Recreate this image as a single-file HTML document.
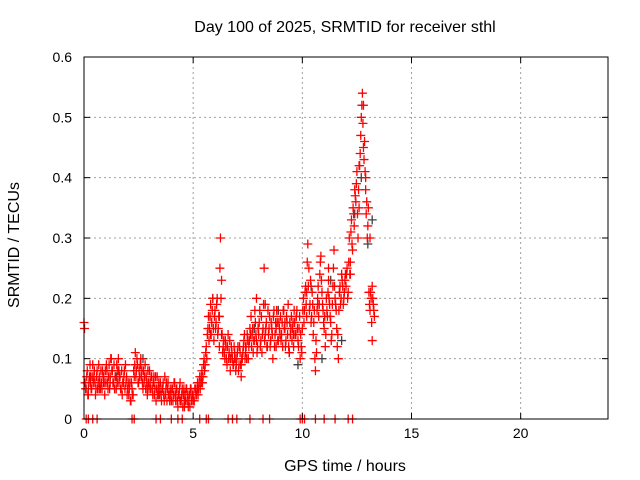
<!DOCTYPE html>
<html><head><meta charset="utf-8"><style>
body{margin:0;background:#fff}
svg{display:block;font-family:"Liberation Sans",sans-serif}
</style></head><body>
<svg id="chart" width="640" height="480" viewBox="0 0 640 480">
<rect width="640" height="480" fill="#fff"/>
<g id="grid"></g>
<g id="black"></g>
<g id="red"></g>
<g id="axes"></g>
<text x="345" y="32" text-anchor="middle" font-size="16">Day 100 of 2025, SRMTID for receiver sthl</text>
<text x="345" y="471" text-anchor="middle" font-size="16">GPS time / hours</text>
<text transform="translate(19,245) rotate(-90)" text-anchor="middle" font-size="16">SRMTID / TECUs</text>
</svg>
<script>
const xTicks=[0,5,10,15,20];
const yTicks=[0,0.1,0.2,0.3,0.4,0.5,0.6];
const yTickLabels=["0","0.1","0.2","0.3","0.4","0.5","0.6"];
const redValues=[
0.16,0.06,0.05,0.08,0.04,0.07,0.06,0.05,0.09,0.07,0.06,0.05,0.08,0.06,0.07,0.05,0.06,0.08,0.07,0.04,
0.06,0.08,0.05,0.09,0.07,0.10,0.08,0.06,0.05,0.07,0.09,0.08,0.06,0.07,0.05,0.04,0.06,0.08,0.09,0.07,
0.05,0.04,0.06,0.03,0.05,0.04,0.07,0.11,0.08,0.09,0.06,0.07,0.10,0.08,0.05,0.06,0.09,0.07,0.04,0.06,
0.08,0.05,0.07,0.04,0.06,0.05,0.03,0.07,0.05,0.04,0.06,0.03,0.05,0.04,0.07,0.05,0.03,0.06,0.04,0.05,
0.03,0.05,0.04,0.06,0.03,0.05,0.02,0.04,0.06,0.03,0.05,0.04,0.02,0.03,0.05,0.04,0.03,0.02,0.04,0.03,
0.04,0.03,0.05,0.04,0.06,0.05,0.07,0.06,0.08,0.07,0.10,0.09,0.12,0.14,0.17,0.15,0.19,0.16,0.20,0.13,
0.18,0.16,0.20,0.15,0.12,0.30,0.23,0.11,0.13,0.10,0.12,0.09,0.14,0.11,0.08,0.12,0.10,0.09,0.11,0.08,
0.10,0.12,0.09,0.11,0.07,0.10,0.12,0.14,0.11,0.10,0.13,0.12,0.15,0.17,0.14,0.11,0.13,0.16,0.20,0.12,
0.14,0.18,0.13,0.11,0.15,0.25,0.19,0.16,0.12,0.14,0.17,0.13,0.15,0.10,0.18,0.14,0.12,0.16,0.13,0.15,
0.17,0.14,0.12,0.18,0.15,0.13,0.16,0.19,0.11,0.14,0.17,0.15,0.12,0.16,0.14,0.18,0.13,0.15,0.10,0.12,
0.15,0.20,0.18,0.22,0.17,0.29,0.25,0.19,0.16,0.21,0.14,0.18,0.08,0.11,0.20,0.17,0.24,0.27,0.21,0.18,
0.15,0.12,0.20,0.17,0.23,0.19,0.16,0.14,0.22,0.28,0.20,0.18,0.12,0.10,0.21,0.19,0.24,0.22,0.20,0.23,
0.22,0.25,0.21,0.30,0.26,0.33,0.28,0.34,0.38,0.36,0.41,0.30,0.35,0.44,0.50,0.54,0.52,0.46,0.40,0.36,
0.32,0.21,0.18,0.20,0.22,0.19,0.17];
const redValuesB=[
0.15,0.05,0.07,0.04,0.06,0.09,0.05,0.07,0.06,0.08,0.04,0.07,0.05,0.09,0.06,0.08,0.05,0.07,0.06,0.08,
0.09,0.06,0.07,0.05,0.10,0.08,0.06,0.09,0.07,0.05,0.06,0.10,0.07,0.05,0.08,0.06,0.07,0.05,0.06,0.04,
0.06,0.05,0.03,0.06,0.04,0.08,0.09,0.07,0.10,0.06,0.08,0.09,0.07,0.06,0.08,0.07,0.05,0.06,0.08,0.05,
0.06,0.07,0.05,0.06,0.04,0.07,0.05,0.04,0.06,0.05,0.04,0.05,0.06,0.03,0.04,0.06,0.05,0.04,0.03,0.04,
0.05,0.03,0.06,0.04,0.05,0.03,0.04,0.05,0.03,0.04,0.02,0.05,0.04,0.05,0.03,0.02,0.04,0.05,0.03,0.04,
0.03,0.05,0.04,0.05,0.04,0.06,0.05,0.07,0.06,0.09,0.08,0.11,0.10,0.15,0.13,0.17,0.14,0.18,0.15,0.17,
0.15,0.19,0.14,0.17,0.25,0.20,0.14,0.12,0.11,0.13,0.10,0.12,0.10,0.13,0.10,0.11,0.09,0.12,0.10,0.09,
0.11,0.08,0.12,0.09,0.10,0.11,0.13,0.10,0.12,0.14,0.10,0.13,0.14,0.12,0.15,0.13,0.18,0.14,0.11,0.15,
0.16,0.12,0.17,0.14,0.19,0.13,0.15,0.12,0.18,0.15,0.12,0.16,0.14,0.17,0.12,0.16,0.18,0.13,0.16,0.14,
0.13,0.16,0.18,0.15,0.12,0.17,0.14,0.12,0.16,0.15,0.13,0.16,0.18,0.14,0.17,0.15,0.12,0.17,0.14,0.11,
0.18,0.16,0.21,0.19,0.26,0.22,0.18,0.23,0.17,0.19,0.16,0.10,0.13,0.18,0.22,0.19,0.26,0.23,0.19,0.16,
0.17,0.14,0.18,0.21,0.20,0.17,0.13,0.19,0.25,0.22,0.19,0.15,0.14,0.18,0.22,0.20,0.23,0.19,0.21,0.24,
0.24,0.20,0.26,0.24,0.31,0.29,0.35,0.32,0.37,0.39,0.34,0.38,0.42,0.47,0.52,0.49,0.43,0.41,0.34,0.30,
0.35,0.19,0.21,0.16,0.20,0.18];
const redStartHour=0, redStepHour=0.05, redBStartHour=0.025;
const redExtraTimes=[0.3,0.7,1.2,1.6,2.6,2.9,3.2,4.2,4.6,4.9,5.4,5.8,6.2,6.5,6.9,7.4,7.9,8.3,8.8,9.2,9.6,10.2,10.7,11.2,11.7,12.2,12.6,12.8,12.9,13.1,13.2];
const redExtraValues=[0.07,0.05,0.06,0.08,0.09,0.05,0.07,0.04,0.03,0.05,0.06,0.14,0.17,0.12,0.10,0.12,0.13,0.14,0.15,0.16,0.14,0.21,0.19,0.25,0.21,0.24,0.42,0.45,0.38,0.30,0.13];
const zeroTimes=[0.1,0.2,0.4,0.6,2.2,2.3,3.3,3.5,4.0,4.3,4.5,5.3,5.6,5.7,6.6,6.8,7.0,7.6,8.2,8.5,9.9,10.0,10.1,10.6,11.0,11.5,12.1,12.3];
const blackTimes=[0.2,0.9,1.5,2.7,3.4,4.4,5.2,5.9,6.3,6.7,7.2,7.8,8.4,8.9,9.4,9.8,10.4,10.9,11.3,11.8,12.4,12.7,13.0,13.2];
const blackValues=[0.05,0.06,0.07,0.10,0.04,0.03,0.05,0.20,0.14,0.10,0.09,0.15,0.12,0.18,0.11,0.09,0.22,0.10,0.23,0.13,0.34,0.40,0.29,0.33];

const X0=84,X1=608,Y0=419,Y1=57;
const xs=h=>X0+h/24*(X1-X0);
const ys=v=>Y0-v/0.6*(Y0-Y1);
const NS="http://www.w3.org/2000/svg";
function mk(tag,attrs,parent){const e=document.createElementNS(NS,tag);for(const k in attrs)e.setAttribute(k,attrs[k]);parent.appendChild(e);return e;}
const grid=document.getElementById('grid'),axes=document.getElementById('axes');
xTicks.forEach(t=>{
  if(t>0){const l=mk('line',{x1:xs(t),x2:xs(t),y1:Y0,y2:Y1,stroke:'#a0a0a0','stroke-dasharray':'2,3'},grid);
  
  }
  const tx=mk('text',{x:xs(t),y:Y0+19,'text-anchor':'middle','font-size':'14'},axes);tx.textContent=t;
  
  
  mk('line',{x1:xs(t),x2:xs(t),y1:Y0,y2:Y0-6,stroke:'#000'},axes);
  mk('line',{x1:xs(t),x2:xs(t),y1:Y1,y2:Y1+6,stroke:'#000'},axes);
});
yTicks.forEach((t,i)=>{
  if(t>0&&t<0.6){const l=mk('line',{x1:X0,x2:X1,y1:ys(t),y2:ys(t),stroke:'#a0a0a0','stroke-dasharray':'2,3'},grid);
  
  }
  const tx=mk('text',{x:X0-12,y:ys(t)+5,'text-anchor':'end','font-size':'14'},axes);tx.textContent=yTickLabels[i];
  
  
  mk('line',{x1:X0,x2:X0+6,y1:ys(t),y2:ys(t),stroke:'#000'},axes);
  mk('line',{x1:X1,x2:X1-6,y1:ys(t),y2:ys(t),stroke:'#000'},axes);
});
const frame=mk('rect',{x:X0,y:Y1,width:X1-X0,height:Y0-Y1,fill:'none',stroke:'#000'},axes);


function plus(g,h,v,col,name){
  const x=xs(h),y=ys(v);
  const p=mk('path',{d:`M${x-4.5},${y}H${x+4.5}M${x},${y-4.5}V${y+4.5}`,stroke:col,'stroke-width':'1.3',fill:'none'},g);
  
  
}
const bg=document.getElementById('black'),rg=document.getElementById('red');
blackTimes.forEach((h,i)=>plus(bg,h,blackValues[i],'#404040','black-point'));
redValues.forEach((v,i)=>plus(rg,redStartHour+i*redStepHour,v,'#ff0000','red-point'));
redValuesB.forEach((v,i)=>plus(rg,redBStartHour+i*redStepHour,v,'#ff0000','red-point'));
redExtraTimes.forEach((h,i)=>plus(rg,h,redExtraValues[i],'#ff0000','red-point'));
zeroTimes.forEach(h=>plus(rg,h,0,'#ff0000','zero-point'));
</script>
</body></html>
